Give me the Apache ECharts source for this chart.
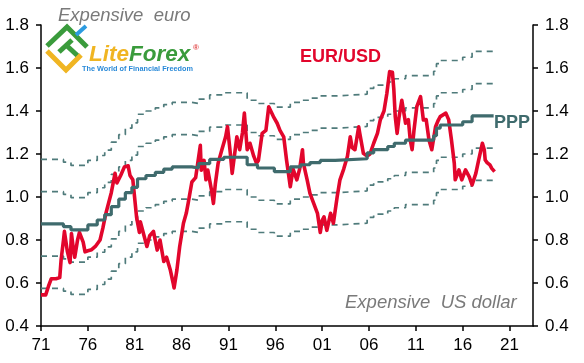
<!DOCTYPE html>
<html>
<head>
<meta charset="utf-8">
<script src="https://cdn.jsdelivr.net/npm/echarts@6/dist/echarts.min.js"></script>
<style>
html,body{margin:0;padding:0;background:#fff;}
#chart{width:584px;height:363px;}
</style>
</head>
<body>
<div id="chart"></div>
<script>
// ---- DATA ----
const BASE_YEAR = 1971;
const xTickYears = [1971, 1976, 1981, 1986, 1991, 1996, 2001, 2006, 2011, 2016, 2021];
const yTicks = [0.4, 0.6, 0.8, 1.0, 1.2, 1.4, 1.6, 1.8];

const eurYears = [1971.0,1971.5,1971.8,1972.1,1972.6,1973.0,1973.15,1973.4,1973.5,1973.8,1974.1,1974.25,1974.45,1974.6,1974.9,1975.1,1975.3,1975.5,1975.7,1976.0,1976.4,1976.8,1977.3,1977.6,1977.9,1978.2,1978.5,1978.9,1979.1,1979.5,1979.9,1980.3,1980.5,1980.8,1981.2,1981.5,1981.6,1981.7,1982.3,1982.6,1983.0,1983.4,1983.7,1984.1,1984.4,1984.8,1985.1,1985.2,1985.5,1985.8,1986.2,1986.5,1986.7,1987.1,1987.5,1988.0,1988.1,1988.4,1988.6,1988.8,1989.2,1989.4,1989.6,1989.9,1990.3,1990.7,1990.9,1991.2,1991.4,1991.9,1992.2,1992.5,1992.7,1993.0,1993.3,1993.7,1994.0,1994.2,1994.6,1995.0,1995.3,1995.5,1995.8,1996.2,1996.5,1996.9,1997.2,1997.4,1997.6,1997.9,1998.3,1998.6,1998.9,1999.0,1999.4,1999.7,2000.1,2000.5,2000.8,2001.0,2001.2,2001.5,2001.9,2002.2,2002.6,2002.9,2003.3,2003.7,2004.0,2004.2,2004.5,2004.9,2005.0,2005.4,2005.8,2006.1,2006.5,2006.9,2007.2,2007.6,2007.9,2008.2,2008.5,2008.65,2008.8,2009.0,2009.2,2009.5,2009.9,2010.2,2010.4,2010.6,2010.8,2011.1,2011.5,2011.8,2012.1,2012.4,2012.7,2013.1,2013.4,2013.6,2014.2,2014.5,2014.8,2015.1,2015.2,2015.6,2015.9,2016.3,2016.7,2017.0,2017.4,2017.7,2018.1,2018.3,2018.4,2018.6,2018.9,2019.1,2019.4];
const eurValues = [0.545,0.545,0.585,0.62,0.62,0.625,0.71,0.80,0.84,0.75,0.695,0.83,0.76,0.72,0.80,0.835,0.84,0.79,0.745,0.75,0.755,0.77,0.80,0.855,0.92,0.97,1.02,1.11,1.065,1.10,1.14,1.145,1.10,1.08,0.905,0.835,0.885,0.89,0.77,0.82,0.84,0.753,0.80,0.70,0.72,0.66,0.60,0.577,0.66,0.77,0.878,0.924,0.97,1.07,1.09,1.24,1.125,1.17,1.08,1.125,1.03,0.97,1.06,1.157,1.22,1.28,1.327,1.204,1.11,1.28,1.22,1.30,1.39,1.22,1.25,1.19,1.157,1.17,1.296,1.31,1.42,1.427,1.374,1.343,1.31,1.28,1.172,1.11,1.048,1.13,1.08,1.13,1.22,1.157,1.08,1.017,0.97,0.924,0.835,0.89,0.908,0.845,0.924,0.878,1.0,1.08,1.13,1.19,1.28,1.23,1.22,1.327,1.30,1.203,1.19,1.20,1.25,1.296,1.358,1.40,1.48,1.583,1.58,1.50,1.374,1.296,1.37,1.45,1.343,1.36,1.265,1.22,1.31,1.42,1.467,1.358,1.36,1.265,1.22,1.327,1.358,1.374,1.39,1.36,1.265,1.157,1.08,1.126,1.08,1.126,1.094,1.056,1.11,1.172,1.25,1.22,1.172,1.16,1.149,1.133,1.118];

const pppYears = [1971.0,1973.4,1974.2,1976.0,1977.0,1977.8,1978.5,1979.3,1980.0,1980.7,1981.3,1982.2,1983.2,1984.1,1985.0,1987.1,1987.8,1989.0,1990.5,1993.0,1994.1,1995.9,1997.6,1998.7,1999.7,2000.8,2002.4,2005.8,2006.5,2008.0,2008.7,2009.9,2012.9,2013.2,2013.6,2016.0,2017.0,2019.3];
const pppValues = [0.875,0.862,0.847,0.87,0.893,0.918,0.955,0.99,1.02,1.045,1.085,1.10,1.115,1.13,1.14,1.135,1.155,1.175,1.185,1.15,1.135,1.118,1.14,1.15,1.16,1.17,1.178,1.205,1.22,1.235,1.25,1.265,1.285,1.32,1.335,1.35,1.377,1.377];
const upperOuter = [1.175,1.162,1.147,1.17,1.193,1.218,1.255,1.29,1.32,1.345,1.385,1.40,1.415,1.43,1.44,1.435,1.455,1.475,1.485,1.45,1.435,1.418,1.44,1.45,1.46,1.47,1.478,1.505,1.52,1.535,1.55,1.565,1.585,1.62,1.635,1.65,1.677,1.677];
const upperInner = [1.025,1.012,0.997,1.02,1.043,1.068,1.105,1.14,1.17,1.195,1.235,1.25,1.265,1.28,1.29,1.285,1.305,1.325,1.335,1.30,1.285,1.268,1.29,1.30,1.31,1.32,1.328,1.355,1.37,1.385,1.40,1.415,1.435,1.47,1.485,1.50,1.527,1.527];
const lowerInner = [0.725,0.712,0.697,0.72,0.743,0.768,0.805,0.84,0.87,0.895,0.935,0.95,0.965,0.98,0.99,0.985,1.005,1.025,1.035,1.00,0.985,0.968,0.99,1.00,1.01,1.02,1.028,1.055,1.07,1.085,1.10,1.115,1.135,1.17,1.185,1.20,1.227,1.227];
const lowerOuter = [0.575,0.562,0.547,0.57,0.593,0.618,0.655,0.69,0.72,0.745,0.785,0.80,0.815,0.83,0.84,0.835,0.855,0.875,0.885,0.85,0.835,0.818,0.84,0.85,0.86,0.87,0.878,0.905,0.92,0.935,0.95,0.965,0.985,1.02,1.035,1.05,1.077,1.077];

// ---- BUILD ----
const toPts = (xs, ys) => xs.map((x, i) => [x - BASE_YEAR, ys[i]]);
const FONT = '"Liberation Sans", Arial, sans-serif';
const RED = '#e2062c';
const TEAL = '#3f6b6d';
const DASH = '#4f7b7b';

const bandSeries = [upperOuter, upperInner, lowerInner, lowerOuter].map(vals => ({
  type: 'line', data: toPts(pppYears, vals), step: 'end', showSymbol: false, silent: true,
  lineStyle: { color: DASH, width: 1.7, type: [6, 5] }, z: 2
}));

const yAxisCommon = {
  type: 'value', min: 0.4, max: 1.8, interval: 0.2,
  axisLine: { show: true, lineStyle: { color: '#000', width: 1.5 } },
  axisTick: { show: true, length: 5, inside: false, lineStyle: { color: '#000', width: 1.5 } },
  axisLabel: { color: '#000', fontSize: 17, fontFamily: FONT, margin: 12, formatter: v => v.toFixed(1) },
  splitLine: { show: false }
};

const chart = echarts.init(document.getElementById('chart'), null, { renderer: 'canvas' });
chart.setOption({
  animation: false,
  backgroundColor: '#fff',
  grid: { left: 41, right: 51, top: 25, bottom: 37, containLabel: false },
  xAxis: {
    type: 'value', min: 0, max: 52.5,
    axisLine: { show: true, onZero: false, lineStyle: { color: '#000', width: 1.5 } },
    axisTick: { show: true, length: 5, lineStyle: { color: '#000', width: 1.5 },
      customValues: xTickYears.map(y => y - BASE_YEAR) },
    axisLabel: { color: '#000', fontSize: 17, fontFamily: FONT, margin: 11,
      customValues: xTickYears.map(y => y - BASE_YEAR),
      formatter: v => String(Math.round(v + BASE_YEAR) % 100).padStart(2, '0') },
    splitLine: { show: false }
  },
  yAxis: [
    Object.assign({}, yAxisCommon, { position: 'left' }),
    Object.assign({}, yAxisCommon, { position: 'right' })
  ],
  series: bandSeries.concat([
    { type: 'line', data: toPts(eurYears, eurValues), showSymbol: false, silent: true,
      lineStyle: { color: RED, width: 3.6, join: 'round' }, z: 3 },
    { type: 'line', data: toPts(pppYears, pppValues), step: 'end', showSymbol: false, silent: true,
      lineStyle: { color: TEAL, width: 3.2 }, z: 4 }
  ]),
  graphic: [
    { type: 'text', x: 58, y: 16, style: { text: 'Expensive  euro', font: 'italic 18.5px ' + FONT, fill: '#7a7a7a', align: 'left', verticalAlign: 'middle' } },
    { type: 'text', x: 345, y: 303, style: { text: 'Expensive  US dollar', font: 'italic 18.5px ' + FONT, fill: '#7a7a7a', align: 'left', verticalAlign: 'middle' } },
    { type: 'text', x: 300, y: 57, style: { text: 'EUR/USD', font: 'bold 18px ' + FONT, fill: RED, align: 'left', verticalAlign: 'middle' } },
    { type: 'text', x: 494, y: 123, style: { text: 'PPP', font: 'bold 18px ' + FONT, fill: TEAL, align: 'left', verticalAlign: 'middle' } },
    // LiteForex logo
    { type: 'polyline', shape: { points: [[47, 46], [67, 27], [87, 47]] }, style: { stroke: '#3a9b3c', lineWidth: 5, fill: null, lineJoin: 'miter' } },
    { type: 'polyline', shape: { points: [[59, 52], [72, 40]] }, style: { stroke: '#3a9b3c', lineWidth: 5, fill: null } },
    { type: 'polyline', shape: { points: [[66, 45], [79, 57]] }, style: { stroke: '#3a9b3c', lineWidth: 5, fill: null } },
    { type: 'polyline', shape: { points: [[47, 51], [66, 70], [81, 55]] }, style: { stroke: '#f0b522', lineWidth: 5, fill: null, lineJoin: 'miter' } },
    { type: 'polyline', shape: { points: [[76, 35], [86, 26]] }, style: { stroke: '#2c9be0', lineWidth: 4, fill: null } },
    { type: 'text', x: 89, y: 55, style: { text: '{a|Lite}{b|Forex}', align: 'left', verticalAlign: 'middle',
        rich: { a: { font: 'italic bold 22.5px ' + FONT, fill: '#f0b522' }, b: { font: 'italic bold 22.5px ' + FONT, fill: '#3a9b3c' } } } },
    { type: 'text', x: 193, y: 48, style: { text: '®', font: 'bold 8px ' + FONT, fill: '#e04040', align: 'left', verticalAlign: 'middle' } },
    { type: 'text', x: 82, y: 69, style: { text: 'The World of Financial Freedom', font: 'bold 7.3px ' + FONT, fill: '#2a8ad8', align: 'left', verticalAlign: 'middle' } }
  ]
});
</script>
</body>
</html>
